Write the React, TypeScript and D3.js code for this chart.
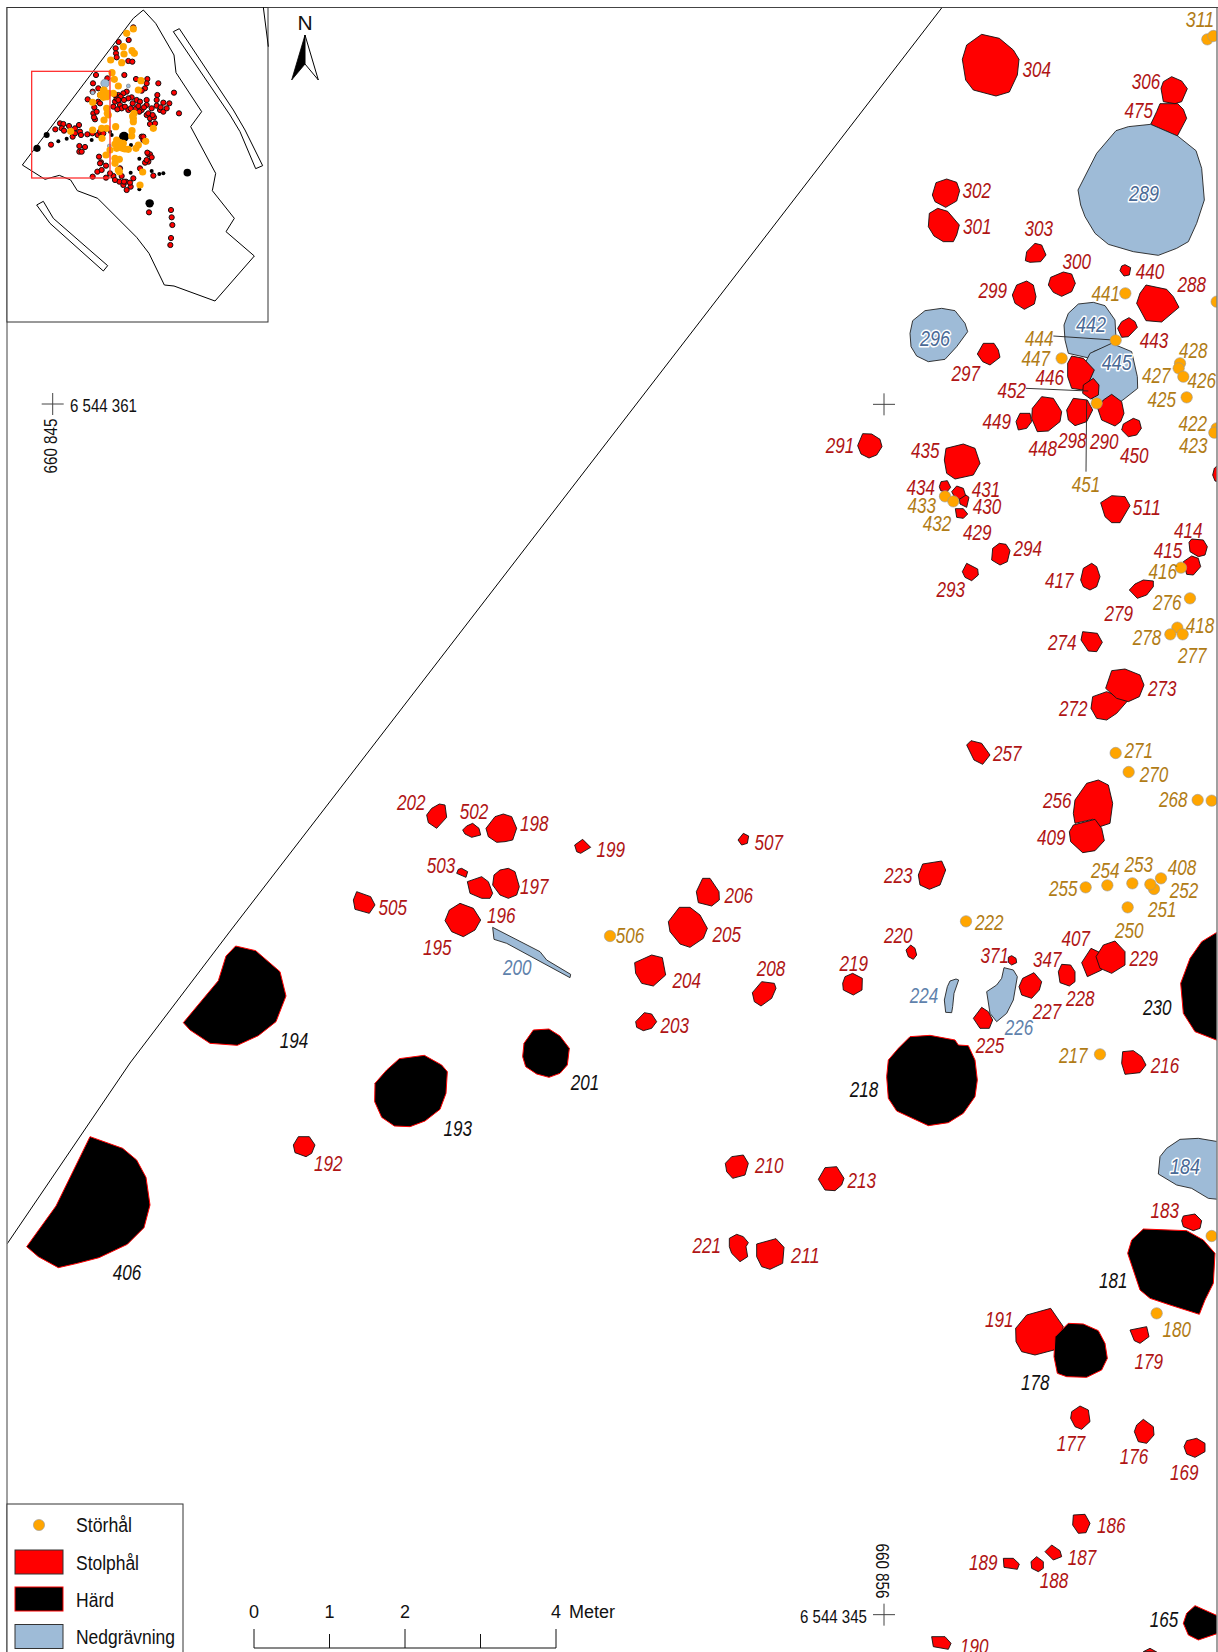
import React from "react";
import * as d3 from "d3";

type Poly = [string, string, number[]];
type Lab = [string, string, number, number];
type Pt = [string, number, number];

// survey sheets: each sheet is read in its own units, 3 units per pixel
const sheets: Record<string, [number, number]> = {
  A: [800, 0], B: [800, 380], C: [800, 780], D: [800, 1180], E: [340, 780],
  F: [600, 820], G: [690, 1130], H: [0, 930], I: [360, 1010], J: [0, 0],
};

const stolphalUnder: Poly[] = [
  ["A", "475", [1080,311,1133,311,1150,328,1160,355,1132,408,1052,373,1070,335]],
];

const nedgravning: Poly[] = [
  ["A", "289", [1052,373,1133,408,1188,452,1205,505,1213,600,1190,670,1165,725,1130,745,1075,766,1000,755,925,733,885,700,855,650,842,615,834,570,890,460,948,392,985,380]],
  ["A", "296", [375,932,425,925,465,932,495,970,503,995,470,1040,435,1078,385,1085,350,1068,333,1040,330,1000,338,962]],
  ["A", "442", [835,912,880,907,915,917,945,960,948,1015,932,1035,880,1055,862,1073,805,1060,795,1020,792,975,805,940]],
  ["A", "445", [935,1030,995,1055,1012,1130,1013,1165,975,1195,935,1225,880,1210,850,1100,870,1060]],
  ["C", "224", [450,603,468,597,476,600,462,640,458,680,455,698,437,697,433,660,442,620]],
  ["C", "226", [612,563,640,570,652,590,640,660,620,700,590,725,570,700,560,635,590,615,605,595]],
  ["C", "184", [1140,1078,1195,1075,1254,1085,1254,1258,1225,1255,1175,1225,1130,1215,1075,1182,1080,1130,1100,1105]],
  ["E", "200", [458,442,600,515,620,540,692,583,690,593,500,490,462,478]],
];

const stolphal: Poly[] = [
  ["A", "304", [545,103,598,115,640,150,657,178,652,225,628,276,588,288,520,270,497,240,487,178,500,135]],
  ["A", "306", [1115,230,1145,243,1162,266,1145,305,1125,311,1090,305,1083,265,1090,245]],
  ["A", "302", [440,537,470,547,479,572,470,603,437,622,405,605,397,585,408,548]],
  ["A", "301", [413,625,443,634,478,675,470,705,460,725,430,725,402,708,385,680,388,640]],
  ["A", "303", [705,730,725,735,738,765,722,785,690,787,676,782,680,755]],
  ["A", "300", [790,816,815,822,826,850,815,875,785,889,760,877,745,855,752,832]],
  ["A", "440", [975,794,992,803,988,825,972,828,960,812,965,798]],
  ["A", "288", [1038,855,1100,868,1120,890,1137,922,1085,966,1038,962,1010,910,1020,880]],
  ["A", "299", [680,843,700,855,708,890,703,912,673,928,645,910,637,885,650,855]],
  ["A", "297", [550,1030,582,1030,595,1050,600,1072,570,1095,548,1085,532,1062]],
  ["A", "443", [987,953,1005,965,1012,982,985,1010,965,1012,953,985,965,965]],
  ["A", "446", [815,1068,850,1075,883,1110,865,1150,848,1170,815,1165,803,1130,803,1090]],
  ["B", "449", [660,100,690,100,695,125,680,145,655,150,648,125]],
  ["B", "448", [725,50,760,55,785,95,780,125,745,153,712,155,695,115,697,85]],
  ["B", "298", [820,55,862,60,878,90,860,125,825,137,805,120,800,90]],
  ["B", "290", [935,43,965,65,972,100,962,125,945,138,905,120,893,85,910,60]],
  ["A", "452", [880,1135,897,1155,895,1185,872,1197,848,1180,850,1155]],
  ["B", "450", [1000,115,1018,122,1024,145,1010,165,985,170,965,150,970,132]],
  ["B", "291", [188,161,215,162,240,178,246,200,230,225,207,234,183,222,173,197]],
  ["B", "435", [438,205,490,192,525,205,540,250,520,285,465,297,440,280,433,240]],
  ["B", "434", [423,305,442,302,452,322,440,337,422,332,418,320]],
  ["B", "431", [470,318,490,325,498,350,478,358,462,348,455,335]],
  ["B", "430", [498,345,507,352,500,382,480,372,478,358]],
  ["B", "429", [466,386,490,386,503,402,490,415,470,412]],
  ["B", "511", [935,347,975,350,990,377,960,428,935,428,915,410,902,368]],
  ["B", "294", [598,490,618,493,630,512,622,545,600,555,575,540,578,505]],
  ["B", "293", [500,550,533,567,535,585,515,602,495,592,487,575]],
  ["B", "417", [875,550,890,560,900,590,890,620,870,630,850,620,842,600,850,565]],
  ["B", "414", [1175,477,1210,480,1222,500,1215,525,1195,530,1170,515,1167,487]],
  ["B", "415", [1175,528,1195,535,1202,560,1180,585,1160,583,1150,545]],
  ["B", "279", [1030,600,1060,603,1060,620,1040,645,1012,655,988,630,1005,612]],
  ["B", "274", [848,755,892,760,907,787,890,815,865,813,843,780]],
  ["B", "272", [920,935,985,960,950,1000,920,1020,890,1015,873,985,878,950]],
  ["B", "273", [935,872,975,867,1020,885,1032,915,1018,950,985,965,950,955,917,925]],
  ["B", "257", [513,1082,545,1090,570,1125,548,1153,522,1140,500,1095]],
  ["B", "edge", [1254,255,1243,265,1238,285,1245,303,1254,305]],
  ["C", "256", [860,10,895,0,925,15,938,70,930,130,900,140,878,118,825,130,820,100,825,60]],
  ["C", "409", [820,135,885,118,905,145,913,182,885,212,848,218,812,185,808,155]],
  ["C", "223", [368,252,425,243,437,270,420,315,388,328,360,315,355,285]],
  ["C", "219", [158,580,187,595,186,630,160,645,130,630,128,610,135,590]],
  ["C", "220", [332,495,345,505,350,525,340,538,325,530,318,510]],
  ["C", "371", [635,527,648,535,650,548,635,555,625,547,625,532]],
  ["C", "225", [545,682,565,695,578,720,568,745,540,745,520,715]],
  ["C", "227", [702,578,725,605,718,630,695,655,665,645,657,620,668,595]],
  ["C", "228", [785,553,812,555,825,575,825,605,808,618,780,608,775,575]],
  ["C", "407", [873,505,905,520,905,570,862,590,845,548]],
  ["C", "229", [910,495,945,483,975,515,975,555,935,580,900,565,888,530]],
  ["C", "216", [968,815,1000,812,1025,830,1038,855,1020,878,975,883,965,850]],
  ["D", "183", [1150,108,1185,102,1205,122,1200,145,1180,152,1150,140,1145,122]],
  ["D", "191", [680,405,752,385,790,440,762,510,705,525,665,515,648,485,647,445]],
  ["D", "179", [990,450,1040,440,1047,470,1020,490,1003,482]],
  ["D", "177", [840,678,865,690,870,725,845,748,825,740,812,715,815,695]],
  ["D", "176", [1030,718,1060,740,1062,765,1040,790,1015,785,1003,755,1010,735]],
  ["D", "169", [1160,782,1190,775,1215,790,1215,815,1185,832,1160,822,1152,800]],
  ["D", "186", [820,1005,855,1003,870,1030,858,1058,835,1060,818,1035]],
  ["D", "187", [755,1095,780,1112,785,1130,760,1140,735,1115]],
  ["D", "188", [710,1130,730,1145,730,1165,715,1175,695,1165,693,1145]],
  ["D", "189", [610,1135,640,1135,658,1152,652,1168,612,1162]],
  ["D", "190", [395,1370,435,1370,453,1390,445,1408,400,1400]],
  ["D", "edge2", [1030,1415,1050,1405,1070,1416]],
  ["E", "202", [298,72,315,75,320,112,290,145,265,128,260,105,275,85]],
  ["E", "502", [398,130,417,145,422,165,395,172,375,162,368,150,380,138]],
  ["E", "198", [465,110,490,102,515,110,530,145,518,180,495,185,470,187,445,170,438,145]],
  ["E", "199", [728,178,752,202,722,220,710,215,704,195]],
  ["E", "503", [365,265,383,275,378,292,350,280,355,268]],
  ["E", "196", [382,305,425,290,445,305,458,340,450,355,425,355,390,340]],
  ["E", "197", [480,270,505,265,525,275,538,320,530,345,505,355,480,345,458,315,462,285]],
  ["E", "505", [50,335,92,350,105,375,88,400,45,388,40,360]],
  ["E", "195", [360,370,400,385,422,420,405,450,370,470,335,455,315,422,328,390]],
  ["F", "507", [430,40,446,48,442,70,425,75,414,60]],
  ["F", "206", [308,175,330,175,357,215,358,240,335,258,295,248,289,215]],
  ["F", "205", [238,262,270,262,300,285,322,325,310,355,270,382,240,372,210,335,205,305]],
  ["F", "204", [155,405,187,413,197,465,160,498,125,490,107,460,104,428]],
  ["F", "208", [485,485,523,490,528,505,515,535,483,558,463,545,457,518]],
  ["F", "203", [133,578,155,582,170,605,155,625,130,632,110,622,107,605]],
  ["G", "210", [125,80,160,75,175,100,165,135,128,145,110,125,106,100]],
  ["G", "213", [405,113,440,110,462,145,455,165,435,182,405,180,385,148]],
  ["G", "221", [140,313,160,320,175,338,168,350,173,380,150,395,125,370,118,350,118,325]],
  ["G", "211", [200,342,258,326,282,352,278,400,240,418,215,410,200,380]],
  ["H", "192", [895,620,928,620,945,645,935,670,918,680,885,668,880,645]],
];

const hard: Poly[] = [
  ["C", "218", [330,770,390,766,465,780,475,795,505,797,525,840,532,900,525,950,490,1000,445,1028,385,1037,290,993,265,955,260,890,265,840,295,805]],
  ["C", "230", [1254,455,1205,485,1170,535,1142,610,1150,700,1185,755,1254,782]],
  ["D", "181", [1030,147,1160,152,1210,180,1245,220,1240,310,1215,360,1198,403,1110,375,1050,355,1020,330,983,220,995,180]],
  ["D", "178", [805,430,850,432,895,452,915,490,922,535,905,570,860,592,800,590,772,580,762,530,765,470]],
  ["D", "165", [1185,1277,1254,1308,1254,1360,1195,1380,1165,1365,1150,1330,1160,1300]],
  ["H", "194", [707,48,767,62,840,125,858,198,828,275,775,317,712,346,630,340,570,300,550,278,655,152,678,78]],
  ["H", "406", [270,620,368,655,410,690,438,742,450,825,432,893,382,943,297,983,232,1000,175,1013,115,980,80,950,168,828]],
  ["I", "193", [118,146,193,136,245,165,262,185,258,250,240,298,195,333,150,350,103,348,65,322,44,275,45,220,80,180]],
  ["I", "201", [520,60,567,57,600,78,628,115,622,165,600,190,567,202,530,192,497,170,488,140,492,100]],
];

const storhal: Pt[] = [
  ["A",1222,118],["A",1240,108],["A",976,880],["A",947,1021],["A",785,1075],["A",1140,1090],["A",1136,1105],["A",1150,1130],["A",1160,1192],["A",890,1210],["A",1250,905],
  ["B",1250,145],["B",1243,158],["B",435,349],["B",460,364],["B",1143,563],["B",1170,655],["B",1132,743],["B",1111,763],["B",1148,763],["B",947,1119],["B",986,1176],
  ["C",1193,60],["C",1235,62],["C",857,322],["C",922,316],["C",997,310],["C",1062,327],["C",1051,313],["C",1083,295],["C",983,382],["C",498,424],["C",900,823],
  ["D",1235,168],["D",1070,400],["F",30,348],
];

const stolphalLabels: Lab[] = [
  ["A","304",710,205],["A","306",1038,242],["A","475",1016,328],["A","302",530,568],["A","301",532,677],["A","303",716,683],["A","300",830,782],["A","440",1050,811],["A","288",1175,851],["A","299",578,868],["A","443",1062,1018],["A","446",749,1130],["A","297",497,1117],["A","452",635,1168],
  ["B","449",590,122],["B","448",728,203],["B","298",817,180],["B","290",913,183],["B","450",1003,223],["B","291",120,193],["B","435",376,210],["B","434",362,320],["B","431",558,325],["B","430",561,377],["B","429",532,455],["B","511",1040,380],["B","294",683,502],["B","414",1165,450],["B","415",1104,510],["B","417",778,598],["B","293",452,626],["B","279",956,697],["B","274",787,785],["B","273",1087,922],["B","272",820,982],["B","257",622,1118],
  ["C","256",772,60],["C","409",754,170],["C","223",295,284],["C","220",295,465],["C","407",827,473],["C","371",584,524],["C","347",742,535],["C","229",1031,533],["C","219",161,548],["C","228",841,653],["C","227",741,692],["C","225",570,795],["C","216",1095,855],["C","213",185,1198],
  ["D","183",1094,88],["D","191",598,415],["D","179",1046,542],["D","177",813,787],["D","176",1002,827],["D","169",1153,875],["D","186",934,1033],["D","187",846,1130],["D","189",550,1145],["D","188",762,1198],["D","190",523,1397],
  ["E","202",214,66],["E","502",402,92],["E","198",583,128],["E","199",812,206],["E","503",303,254],["E","197",583,316],["E","505",158,380],["E","196",484,405],["E","195",292,500],
  ["F","507",506,65],["F","206",416,224],["F","205",380,340],["F","204",260,478],["F","208",513,443],["F","203",224,613],
  ["G","210",238,103],["G","221",50,345],["G","211",346,375],["H","192",985,698],
];

const storhalLabels: Lab[] = [
  ["A","311",1200,55],["A","441",917,877],["A","444",718,1012],["A","447",707,1072],["A","428",1180,1048],["A","427",1069,1123],["A","426",1205,1138],["A","425",1085,1197],
  ["B","422",1178,128],["B","423",1180,193],["B","451",858,310],["B","433",365,373],["B","432",411,428],["B","416",1088,572],["B","276",1102,665],["B","418",1200,735],["B","278",1041,770],["B","277",1177,823],["B","271",1016,1108],["B","270",1062,1180],
  ["C","268",1120,57],["C","253",1016,250],["C","254",916,268],["C","408",1146,260],["C","255",790,323],["C","252",1152,329],["C","251",1087,386],["C","222",568,425],["C","250",988,449],["C","217",820,823],
  ["D","180",1130,445],["F","506",90,345],
];

const hardLabels: Lab[] = [
  ["C","230",1072,680],["C","218",192,927],["D","181",940,300],["D","178",706,605],["D","165",1092,1316],["H","194",882,329],["H","406",381,1025],["I","193",293,353],["I","201",675,215],
];

const nedgLabelsThin: Lab[] = [["C","224",372,645],["C","226",657,740],["E","200",532,560]];
const nedgLabelsHalo: Lab[] = [["A","289",1032,577],["A","296",405,1013],["A","442",873,972],["A","445",950,1086],["C","184",1155,1157]];

const leaders: [string, number, number, number, number][] = [
  ["A",760,1008,940,1020],["A",678,1165,865,1173],["B",860,60,858,275],
];

const terraceLine = [[942,7.5],[231,930],[130,1063],[7,1244]];

const siteOutline = [430,30,467,70,522,165,528,218,605,335,572,380,647,520,637,572,703,655,678,695,763,768,645,903,522,858,493,855,447,760,410,712,293,595,232,572,212,540,178,526,135,538,67,495,400,55];
const trenchNE = [520,95,538,86,700,330,735,390,788,497,767,506,720,395,690,345];
const trenchSW = [110,615,130,604,160,655,323,797,310,813,150,670];
const insetCorner = [790,22,805,140];
const insetFrameView = [95,214,330,534];

const insetRed = [356,126,347,145,348,160,350,172,386,120,400,82,385,183,397,185,288,225,322,235,373,225,408,237,442,237,475,250,279,250,278,275,295,265,300,285,263,298,522,278,472,285,440,250,435,265,425,272,380,275,370,280,355,285,395,292,410,300,420,305,440,300,490,308,508,310,470,317,480,330,490,335,500,325,537,340,340,320,345,305,360,315,365,325,385,330,398,310,408,325,425,330,440,315,455,325,440,345,450,355,462,352,465,370,450,372,283,322,280,340,285,358,295,305,425,410,430,420,237,375,240,395,225,385,218,410,243,405,262,403,277,400,293,405,304,403,180,370,190,372,185,385,192,392,166,388,207,378,297,470,238,438,255,441,238,455,245,455,153,434,445,462,450,463,455,472,445,485,435,488,420,505,292,515,305,510,303,487,318,497,318,533,340,528,360,505,365,528,358,545,370,555,378,545,400,535,392,560,380,570,460,527,447,637,513,630,515,652,517,675,513,714,511,735,330,520,278,530,350,295,362,290,385,295,372,300,352,328,375,320,392,325,415,318,432,322,418,335,345,285,300,310,290,335,282,352,355,300,470,300,482,322,445,340,458,345,430,410,442,458,300,395,310,400,225,400,440,480,300,490,345,540,372,545,390,548];
const insetOrange = [400,87,380,100,370,140,372,162,396,152,403,160,332,180,365,188,336,218,343,238,355,258,423,242,415,270,312,270,302,285,320,290,278,307,320,325,322,340,402,340,400,355,400,365,312,360,305,385,320,385,347,380,396,392,395,408,437,424,350,420,355,435,370,430,350,445,375,447,385,448,415,435,408,445,345,475,358,478,345,490,355,510,358,515,318,465,330,450,428,516,420,555,460,385,278,390,212,394,306,415,310,272,325,280,310,292,340,280,325,345,360,428,345,432,398,348,368,445,358,442];
const insetBlackBig = [372,410,562,518,449,610,111,445,140,405];
const insetBlackMid = [175,424,275,420,335,405,330,395,418,476,393,435,478,522,490,520,455,513,392,518,418,568,200,416];
const insetBlueBig = [315,250];
const insetBlueSmall = [278,278,385,258,328,438];

const legendItems = ["Störhål", "Stolphål", "Härd", "Nedgrävning"];
const legendWidths = [56, 63, 38, 99];
const scaleTicks = [0, 1, 2, 3, 4];
const scaleTickLabels = [0, 1, 2, 4];

const pairs = (a: number[]) => d3.range(0, a.length, 2).map((i) => [a[i], a[i + 1]] as [number, number]);

const sheetScales = Object.fromEntries(
  Object.entries(sheets).map(([k, [ox, oy]]) => [
    k,
    {
      x: d3.scaleLinear().domain([0, 3]).range([ox, ox + 1]),
      y: d3.scaleLinear().domain([0, 3]).range([oy, oy + 1]),
    },
  ])
);
const X = (s: string, v: number) => sheetScales[s].x(v);
const Y = (s: string, v: number) => sheetScales[s].y(v);

const closed = d3.line<[number, number]>().curve(d3.curveLinearClosed);
const polyPath = (s: string, f: number[]) =>
  closed(pairs(f).map(([x, y]) => [X(s, x), Y(s, y)] as [number, number])) as string;

const scaleBar = d3.scaleLinear().domain([0, 4]).range([254, 556]);
const insetBlackR = [5, 3.8, 4.2, 3.6, 3];

const FONT = "'Liberation Sans',Arial,sans-serif";
const ORANGE = "#FFA500";
const RED = "#FF0000";
const BLUE = "#9EBBD7";

function Polys({ data, fill, stroke, sw }: { data: Poly[]; fill: string; stroke: string; sw: number }) {
  return (
    <g fill={fill} stroke={stroke} strokeWidth={sw} strokeLinejoin="round">
      {data.map(([s, id, f]) => (
        <path key={s + id} d={polyPath(s, f)} />
      ))}
    </g>
  );
}

function Labels({ data, fill, halo }: { data: Lab[]; fill: string; halo?: boolean }) {
  return (
    <g fontFamily={FONT} fontStyle="italic" fontSize={22.8} textAnchor="middle" fill={fill}>
      {data.map(([s, t, x, y]) => (
        <text
          key={s + t}
          x={X(s, x)}
          y={Y(s, y)}
          dy="0.36em"
          textLength={halo ? 30 : 28.5}
          lengthAdjust="spacingAndGlyphs"
          {...(halo ? { stroke: "#fff", strokeWidth: 3.2, paintOrder: "stroke", strokeLinejoin: "round" as const } : {})}
        >
          {t}
        </text>
      ))}
    </g>
  );
}

function Cross({ cx, cy }: { cx: number; cy: number }) {
  return (
    <g stroke="#444" strokeWidth={1}>
      <line x1={cx - 11} x2={cx + 11} y1={cy} y2={cy} />
      <line x1={cx} x2={cx} y1={cy - 11} y2={cy + 11} />
    </g>
  );
}

export default function App() {
  const tl = d3.line();
  return (
    <svg
      width={1218}
      height={1652}
      viewBox="0 0 1218 1652"
      style={{ position: "absolute", left: 0, top: 0, display: "block", background: "#fff" }}
    >
      <defs>
        <clipPath id="map">
          <rect x={7} y={7.5} width={1210} height={1645} />
        </clipPath>
        <filter id="soft" x="-5%" y="-5%" width="110%" height="110%">
          <feGaussianBlur stdDeviation={0.35} />
        </filter>
      </defs>
      <g clipPath="url(#map)">
        <path d={tl(terraceLine as [number, number][]) as string} fill="none" stroke="#000" strokeWidth={1} />
        <Polys data={stolphalUnder} fill={RED} stroke="#111" sw={0.9} />
        <Polys data={nedgravning} fill={BLUE} stroke="#222" sw={0.9} />
        <Polys data={stolphal} fill={RED} stroke="#111" sw={0.9} />
        <Polys data={hard} fill="#000" stroke={RED} sw={1} />
        <g stroke="#222" strokeWidth={0.9}>
          {leaders.map(([s, a, b, c, e]) => (
            <line key={s + a} x1={X(s, a)} y1={Y(s, b)} x2={X(s, c)} y2={Y(s, e)} />
          ))}
        </g>
        <g fill={ORANGE} stroke="#999" strokeWidth={0.6}>
          {storhal.map(([s, x, y]) => (
            <circle key={s + x + "-" + y} cx={X(s, x)} cy={Y(s, y)} r={5.7} />
          ))}
        </g>
        <Labels data={stolphalLabels} fill="#B01515" />
        <Labels data={storhalLabels} fill="#B17C16" />
        <Labels data={hardLabels} fill="#111" />
        <Labels data={nedgLabelsThin} fill="#5F82AC" />
        <Labels data={nedgLabelsHalo} fill="#4A6A96" halo />
        <Cross cx={X("A", 252)} cy={Y("A", 1213)} />
        <Cross cx={X("D", 252)} cy={Y("D", 1304)} />
        <Cross cx={52.7} cy={404} />
      </g>

      <g fontFamily={FONT} fontSize={18} fill="#111">
        <text x={70} y={406} dy="0.36em" textLength={67} lengthAdjust="spacingAndGlyphs">6 544 361</text>
        <text x={867} y={1617} dy="0.36em" textAnchor="end" textLength={67} lengthAdjust="spacingAndGlyphs">6 544 345</text>
        <text transform="translate(51,446) rotate(-90)" dy="0.36em" textAnchor="middle" textLength={55} lengthAdjust="spacingAndGlyphs">660 845</text>
        <text transform="translate(882,1571) rotate(90)" dy="0.36em" textAnchor="middle" textLength={55} lengthAdjust="spacingAndGlyphs">660 856</text>
      </g>

      {/* frame */}
      <line x1={7} x2={7} y1={7} y2={1652} stroke="#808080" strokeWidth={1.5} />
      <line x1={1217} x2={1217} y1={7} y2={1652} stroke="#808080" strokeWidth={1.5} />
      <line x1={7} x2={1218} y1={7.5} y2={7.5} stroke="#444" strokeWidth={1} />

      {/* inset */}
      <rect x={7} y={7.5} width={261} height={314.5} fill="#fff" stroke="#333" strokeWidth={1} />
      <g fill="none" stroke="#000" strokeWidth={1}>
        <path d={polyPath("J", siteOutline)} />
        <path d={polyPath("J", trenchNE)} />
        <path d={polyPath("J", trenchSW)} />
        <line x1={X("J", insetCorner[0])} y1={Y("J", insetCorner[1])} x2={X("J", insetCorner[2])} y2={Y("J", insetCorner[3])} />
      </g>
      <g filter="url(#soft)">
        <g fill="#000">
          {pairs(insetBlackMid).map(([x, y]) => (
            <circle key={x + "-" + y} cx={X("J", x)} cy={Y("J", y)} r={2} />
          ))}
          {pairs(insetBlackBig).map(([x, y], i) => (
            <circle key={x + "-" + y} cx={X("J", x)} cy={Y("J", y)} r={insetBlackR[i]} />
          ))}
        </g>
        <g fill={RED} stroke="#111" strokeWidth={1}>
          {pairs(insetRed).map(([x, y]) => (
            <circle key={x + "-" + y} cx={X("J", x)} cy={Y("J", y)} r={2.6} />
          ))}
        </g>
        <g fill={BLUE} stroke="#666" strokeWidth={0.5}>
          {pairs(insetBlueBig).map(([x, y]) => (
            <circle key={x + "-" + y} cx={X("J", x)} cy={Y("J", y)} r={4.2} />
          ))}
          {pairs(insetBlueSmall).map(([x, y]) => (
            <circle key={x + "-" + y} cx={X("J", x)} cy={Y("J", y)} r={2} />
          ))}
        </g>
        <g fill={ORANGE}>
          {pairs(insetOrange).map(([x, y]) => (
            <circle key={x + "-" + y} cx={X("J", x)} cy={Y("J", y)} r={3.6} />
          ))}
        </g>
      </g>
      <rect
        x={X("J", insetFrameView[0])}
        y={Y("J", insetFrameView[1])}
        width={X("J", insetFrameView[2]) - X("J", insetFrameView[0])}
        height={Y("J", insetFrameView[3]) - Y("J", insetFrameView[1])}
        fill="none"
        stroke="#FF3030"
        strokeWidth={1.3}
      />

      {/* north arrow */}
      <text x={305} y={30} fontFamily={FONT} fontSize={21} textAnchor="middle" fill="#111">N</text>
      <path d={polyPath("J", [915, 105, 875, 240, 915, 192])} fill="#000" stroke="#000" strokeWidth={0.8} />
      <path d={polyPath("J", [915, 105, 955, 240, 915, 192])} fill="#fff" stroke="#000" strokeWidth={1} />

      {/* legend */}
      <rect x={7} y={1504} width={176} height={160} fill="#fff" stroke="#333" strokeWidth={1} />
      <circle cx={39} cy={1525} r={5.6} fill={ORANGE} stroke="#999" strokeWidth={0.6} />
      <rect x={15} y={1550} width={48} height={24} fill={RED} stroke="#333" strokeWidth={1} />
      <rect x={15} y={1587} width={48} height={24} fill="#000" stroke={RED} strokeWidth={1} />
      <rect x={15} y={1624.5} width={48} height={24} fill={BLUE} stroke="#333" strokeWidth={1} />
      <g fontFamily={FONT} fontSize={20} fill="#111">
        {legendItems.map((t, i) => (
          <text key={t} x={76} y={1525 + i * 37.3} dy="0.36em" textLength={legendWidths[i]} lengthAdjust="spacingAndGlyphs">{t}</text>
        ))}
      </g>

      {/* scale bar */}
      <g stroke="#111" strokeWidth={1} fill="none">
        <line x1={scaleBar(0)} x2={scaleBar(4)} y1={1648} y2={1648} />
        {scaleTicks.map((t) => (
          <line key={t} x1={scaleBar(t)} x2={scaleBar(t)} y1={t % 2 === 0 ? 1629 : 1634} y2={1648} />
        ))}
      </g>
      <g fontFamily={FONT} fontSize={18} fill="#111" textAnchor="middle">
        {scaleTickLabels.map((t) => (
          <text key={t} x={scaleBar(t)} y={1612} dy="0.36em">{t}</text>
        ))}
        <text x={569} y={1612} dy="0.36em" textAnchor="start">Meter</text>
      </g>
    </svg>
  );
}
